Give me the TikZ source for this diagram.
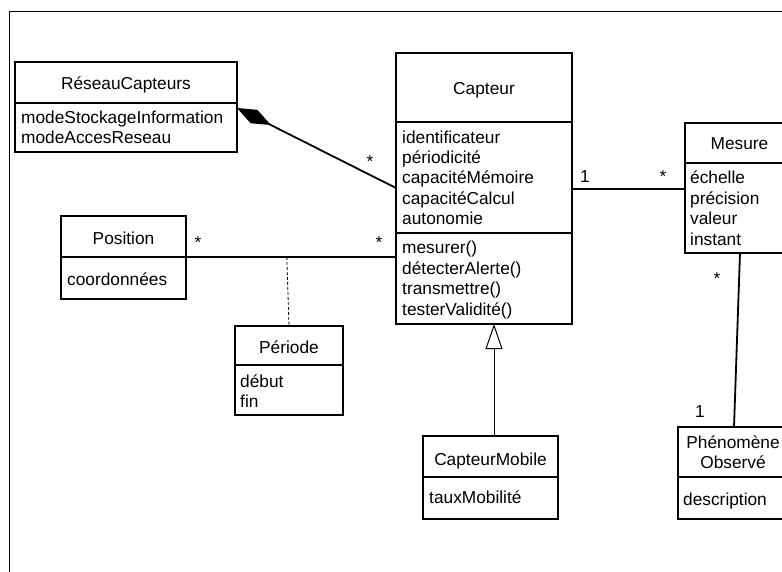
\documentclass[tikz,border=0pt]{standalone}
\usepackage{fontspec}
\setmainfont{Liberation Sans}
\usetikzlibrary{calc,arrows.meta}
\begin{document}
\begin{tikzpicture}[x=1pt,y=-1pt,
  font=\fontsize{17.3}{20}\selectfont,
  box/.style={draw, line width=1.8pt, rectangle, inner sep=0pt, outer sep=0pt, anchor=north west},
  txt/.style={inner sep=0pt, anchor=base west},
  ttl/.style={inner sep=0pt, anchor=base},
  mult/.style={inner sep=0pt, anchor=base},
  assoc/.style={line width=1.8pt},
  gen/.style={line width=1pt, -{Triangle[open, length=25pt, width=17pt]}},
  attach/.style={line width=0.8pt, dash pattern=on 3pt off 2pt},
]
\useasboundingbox (0,0) rectangle (782,572);
\clip (0,0) rectangle (782,572);
\draw[line width=1pt] (9,12) rectangle (820,620);

% ReseauCapteurs
\node[box, minimum width=222pt, minimum height=41pt] (rc-h) at (15,62) {};
\node[box, minimum width=222pt, minimum height=49pt] (rc-a) at (15,103) {};
\node[ttl] (rc-t) at (126,90) {RéseauCapteurs};
\node[txt] (rc-a1) at (21,124) {modeStockageInformation};
\node[txt] (rc-a2) at (21,144) {modeAccesReseau};

% Position
\node[box, minimum width=125pt, minimum height=41pt] (pos-h) at (61,216) {};
\node[box, minimum width=125pt, minimum height=42pt] (pos-a) at (61,257) {};
\node[ttl] (pos-t) at (123.5,245) {Position};
\node[txt] (pos-a1) at (67,285) {coordonnées};

% Periode
\node[box, minimum width=108pt, minimum height=39pt] (per-h) at (235,326) {};
\node[box, minimum width=108pt, minimum height=50pt] (per-a) at (235,365) {};
\node[ttl] (per-t) at (289,353) {Période};
\node[txt] (per-a1) at (240,387) {début};
\node[txt] (per-a2) at (240,407) {fin};

% Capteur
\node[box, minimum width=176pt, minimum height=69pt] (cap-h) at (396,53) {};
\node[box, minimum width=176pt, minimum height=111pt] (cap-a) at (396,122) {};
\node[box, minimum width=176pt, minimum height=91pt] (cap-o) at (396,233) {};
\node[ttl] (cap-t) at (484,95) {Capteur};
\foreach [count=\i] \t in {identificateur, périodicité, capacitéMémoire, capacitéCalcul, autonomie}
  \node[txt] (cap-a\i) at (402,{143.2+20.4*(\i-1)}) {\t};
\foreach [count=\i] \t in {mesurer(), détecterAlerte(), transmettre(), testerValidité()}
  \node[txt] (cap-o\i) at (402,{254+20.4*(\i-1)}) {\t};

% Mesure
\node[box, minimum width=110pt, minimum height=40pt] (mes-h) at (685,123) {};
\node[box, minimum width=110pt, minimum height=90pt] (mes-a) at (685,163) {};
\node[ttl] (mes-t) at (739.5,150) {Mesure};
\foreach [count=\i] \t in {échelle, précision, valeur, instant}
  \node[txt] (mes-a\i) at (690,{184+20.4*(\i-1)}) {\t};

% CapteurMobile
\node[box, minimum width=135pt, minimum height=41pt] (cm-h) at (423,436) {};
\node[box, minimum width=135pt, minimum height=42pt] (cm-a) at (423,477) {};
\node[ttl] (cm-t) at (490.5,465) {CapteurMobile};
\node[txt] (cm-a1) at (429,503) {tauxMobilité};

% Phenomene Observe
\node[box, minimum width=112pt, minimum height=50pt] (phe-h) at (678,427) {};
\node[box, minimum width=112pt, minimum height=42pt] (phe-a) at (678,477) {};
\node[ttl] (phe-t1) at (733,448) {Phénomène};
\node[ttl] (phe-t2) at (733,468) {Observé};
\node[txt] (phe-a1) at (683,505) {description};

% connectors
\coordinate (compA) at ($(rc-a.north east)+(0,5)$);
\coordinate (compB) at ($(cap-a.north west)+(0,66)$);
\draw[assoc, {Diamond[length=38pt, width=15pt]}-] (compA) -- (compB);

\coordinate (posB) at (pos-a.north east -| cap-o.west);
\draw[assoc] (pos-a.north east) -- (posB);
\coordinate (assocmid) at ($(pos-a.north east)!0.48!(posB)$);
\draw[attach] (assocmid) -- (per-h.north);

\coordinate (cmA) at ($(cap-a.north east)+(0,67)$);
\draw[assoc] (cmA) -- (cmA -| mes-a.west);

\draw[assoc] (mes-a.south) -- (phe-h.north);

\coordinate (genA) at ($(cm-h.north)+(3.5,0)$);
\draw[gen] (genA) -- (genA |- cap-o.south);

% multiplicities
\node[mult] (m-rc) at (370,168) {*};
\node[mult] (m-pos1) at (198,249) {*};
\node[mult] (m-pos2) at (379,249) {*};
\node[mult] (m-cap1) at (585,183) {1};
\node[mult] (m-mes1) at (663,183) {*};
\node[mult] (m-mes2) at (717,284) {*};
\node[mult] (m-phe) at (700,417) {1};
\end{tikzpicture}
\end{document}
